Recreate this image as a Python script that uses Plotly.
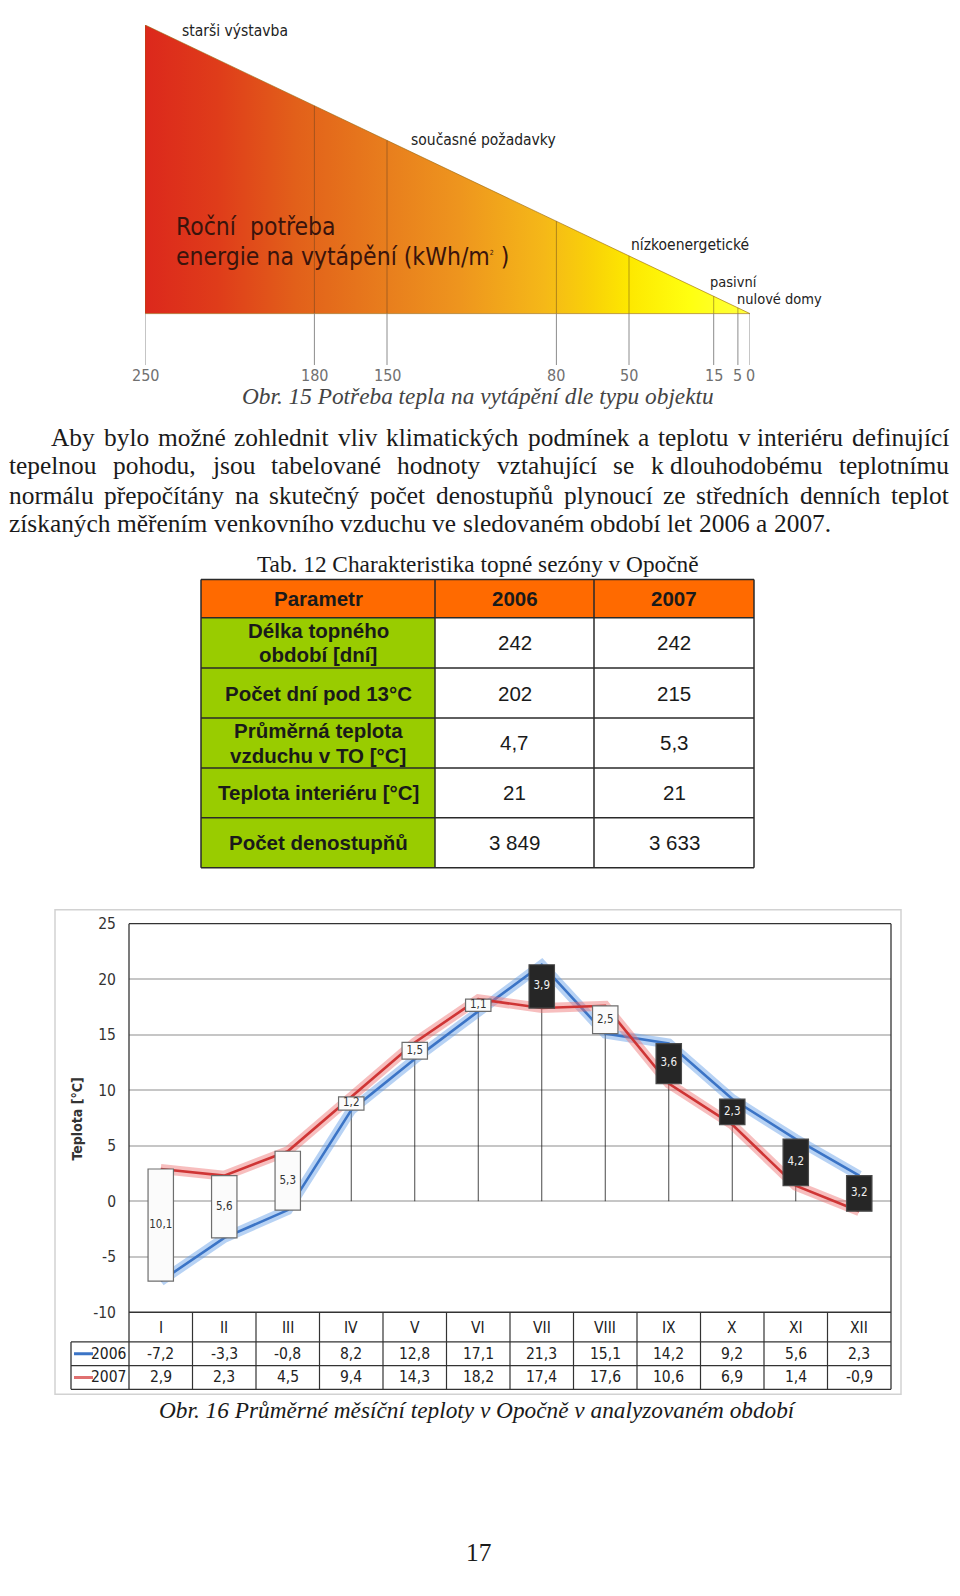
import unicodedata
import plotly.graph_objects as go

W, H = 960, 1596


def px(x):
    return x / W


def py(y):
    return 1 - y / H


# ---------------------------------------------------------------- data
# Obr. 15 – wedge chart
energy_ticks = [250, 180, 150, 80, 50, 15, 5, 0]
energy_top = 250
building_types = ["starši výstavba", "současné požadavky", "nízkoenergetické", "pasivní", "nulové domy"]
building_label_x = [235.5, 141.0, 50.0, 17.5, 6.3]      # label start on the kWh scale
building_label_h = [286, 176, 69, 32, 15]                # label height above the base (px units)
building_label_size = [15.5, 15.5, 15.5, 14.5, 14.5]

# Tab. 12
tab_header = ["Parametr", "2006", "2007"]
tab_params = [["Délka topného", "období [dní]"], ["Počet dní pod 13°C"],
              ["Průměrná teplota", "vzduchu v TO [°C]"], ["Teplota interiéru [°C]"],
              ["Počet denostupňů"]]
tab_2006 = ["242", "202", "4,7", "21", "3 849"]
tab_2007 = ["242", "215", "5,3", "21", "3 633"]

# Obr. 16 – monthly mean temperatures
months = ["I", "II", "III", "IV", "V", "VI", "VII", "VIII", "IX", "X", "XI", "XII"]
t2006 = [-7.2, -3.3, -0.8, 8.2, 12.8, 17.1, 21.3, 15.1, 14.2, 9.2, 5.6, 2.3]
t2007 = [2.9, 2.3, 4.5, 9.4, 14.3, 18.2, 17.4, 17.6, 10.6, 6.9, 1.4, -0.9]
series_names = ["2006", "2007"]
y_ticks = [-10, -5, 0, 5, 10, 15, 20, 25]
y_tick_text = ["-10", "-5", "0", "5", "10", "15", "20", "25"]

# text
paragraph = [
    "Aby bylo možné zohlednit vliv klimatických podmínek a teplotu v\u00a0interiéru definující",
    "tepelnou pohodu, jsou tabelované hodnoty vztahující se k\u00a0dlouhodobému teplotnímu",
    "normálu přepočítány na skutečný počet denostupňů plynoucí ze středních denních teplot",
    "získaných měřením venkovního vzduchu ve sledovaném období let 2006 a 2007.",
]

SERIF = "Liberation Serif, Times New Roman, serif"
SANS = "Liberation Sans, Arial, sans-serif"
NARROW = "Liberation Sans Narrow, Arial Narrow, DejaVu Sans Condensed, sans-serif"
COND = "DejaVu Sans Condensed, DejaVu Sans, sans-serif"

# Times-Roman advance widths (1/1000 em)
TIMES = {' ': 250, '\u00a0': 250, ',': 250, '.': 250, '(': 333, ')': 333,
         'a': 444, 'b': 500, 'c': 444, 'd': 500, 'e': 444, 'f': 333, 'g': 500, 'h': 500,
         'i': 278, 'j': 278, 'k': 500, 'l': 278, 'm': 778, 'n': 500, 'o': 500, 'p': 500,
         'q': 500, 'r': 333, 's': 389, 't': 278, 'u': 500, 'v': 500, 'w': 722, 'x': 500,
         'y': 500, 'z': 444, 'A': 722}
for d in "0123456789":
    TIMES[d] = 500


def tw(s, size):
    tot = 0
    for ch in s:
        base = unicodedata.normalize('NFD', ch)[0]
        tot += TIMES.get(base, 500)
    return tot * size / 1000


fig = go.Figure()
ann = []
shapes = []

# ---------------------------------------------------------------- wedge chart (x2/y2)
apex_h = 292
wedge_scale = [[0.0, '#dc281c'], [0.12, '#df3c1a'], [0.25, '#e2601a'], [0.4, '#e87e1d'],
               [0.52, '#ee951e'], [0.66, '#f5b818'], [0.74, '#f9d208'], [0.8, '#fde800'],
               [0.9, '#ffff10'], [1.0, '#ffff40']]
fig.add_trace(go.Scatter(
    x=[energy_top, energy_top, energy_ticks[-1], energy_top], y=[0, apex_h, 0, 0],
    xaxis='x2', yaxis='y2', mode='lines', fill='toself',
    line=dict(color='rgba(150,100,10,0.6)', width=1),
    fillgradient=dict(type='horizontal', start=energy_top, stop=energy_ticks[-1], colorscale=wedge_scale),
    hoverinfo='skip'))
# scale lines: inside the wedge (dark tint) and below it (grey)
ix, iy, bx, by = [], [], [], []
for v in energy_ticks:
    top = apex_h * v / energy_top
    if v not in (energy_top, energy_ticks[-1]):
        ix += [v, v, None]
        iy += [top, 0, None]
    bx += [v, v, None]
    by += [0, -52, None]
fig.add_trace(go.Scatter(x=ix, y=iy, xaxis='x2', yaxis='y2', mode='lines',
                         line=dict(color='rgba(90,60,30,0.45)', width=1), hoverinfo='skip'))
fig.add_trace(go.Scatter(x=bx, y=by, xaxis='x2', yaxis='y2', mode='lines',
                         line=dict(color='#8c8c8c', width=1), hoverinfo='skip'))
for v in energy_ticks:
    ann.append(dict(x=v, y=-63, xref='x2', yref='y2', text=str(v), showarrow=False,
                    font=dict(family=COND, size=16, color='#707070'), xanchor='center', yanchor='middle'))
for name, xv, hv, fs in zip(building_types, building_label_x, building_label_h, building_label_size):
    ann.append(dict(x=xv, y=hv, xref='x2', yref='y2', text=name, showarrow=False,
                    font=dict(family=COND, size=fs, color='#222222'), xanchor='left', yanchor='middle'))
ann.append(dict(x=px(166), y=py(212), xref='paper', yref='paper', text="Roční  potřeba", showarrow=False,
                font=dict(family=COND, size=24.5, color='#3a140c'), xanchor='left', yanchor='middle'))
ann.append(dict(x=px(166), y=py(242), xref='paper', yref='paper',
                text="energie na vytápění (kWh/m<sup><span style='font-size:7px'>2</span></sup> )",
                showarrow=False,
                font=dict(family=COND, size=24.5, color='#3a140c'), xanchor='left', yanchor='middle'))

# caption 15
ann.append(dict(x=px(470), y=py(383), xref='paper', yref='paper',
                text="<i>Obr. 15 Potřeba tepla na vytápění dle typu objektu</i>", showarrow=False,
                font=dict(family=SERIF, size=23.3, color='#444444'), xanchor='center', yanchor='middle'))

# ---------------------------------------------------------------- paragraph (justified)
PS = 25.4
line_y = [425, 453, 483, 512]
line_x0 = [42, 0, 0, 0]
line_x1 = [940, 940, 940, None]
for text, yc, x0, x1 in zip(paragraph, line_y, line_x0, line_x1):
    words = text.split(' ')
    widths = [tw(w, PS) for w in words]
    if x1 is None:
        gap = tw(' ', PS)
    else:
        gap = (x1 - x0 - sum(widths)) / (len(words) - 1)
    xpos = x0
    for w, wd in zip(words, widths):
        ann.append(dict(x=px(xpos), y=py(yc), xref='paper', yref='paper', text=w, showarrow=False,
                        font=dict(family=SERIF, size=PS, color='#1a1a1a'), xanchor='left',
                        yanchor='middle', borderpad=0))
        xpos += wd + gap

# ---------------------------------------------------------------- Tab. 12
ann.append(dict(x=px(470), y=py(553), xref='paper', yref='paper',
                text="Tab. 12 Charakteristika topné sezóny v Opočně", showarrow=False,
                font=dict(family=SERIF, size=23.3, color='#1a1a1a'), xanchor='center', yanchor='middle'))
col_b = [193, 427, 586, 746]
row_b = [569, 607.5, 658.5, 709, 759.5, 810, 860.5]
shapes.append(dict(type='rect', xref='paper', yref='paper', x0=px(col_b[0]), x1=px(col_b[-1]),
                   y0=py(row_b[0]), y1=py(row_b[1]), fillcolor='#ff6a00', line=dict(width=0)))
shapes.append(dict(type='rect', xref='paper', yref='paper', x0=px(col_b[0]), x1=px(col_b[1]),
                   y0=py(row_b[1]), y1=py(row_b[-1]), fillcolor='#99cc00', line=dict(width=0)))
for yb in row_b:
    shapes.append(dict(type='line', xref='paper', yref='paper', x0=px(col_b[0]), x1=px(col_b[-1]),
                       y0=py(yb), y1=py(yb), line=dict(color='#2a2a2a', width=1.5)))
for xb in col_b:
    shapes.append(dict(type='line', xref='paper', yref='paper', x0=px(xb), x1=px(xb),
                       y0=py(row_b[0]), y1=py(row_b[-1]), line=dict(color='#2a2a2a', width=1.5)))
col_c = [(col_b[i] + col_b[i + 1]) / 2 for i in range(3)]
for c, t in zip(col_c, tab_header):
    ann.append(dict(x=px(c), y=py((row_b[0] + row_b[1]) / 2), xref='paper', yref='paper',
                    text="<b>%s</b>" % t, showarrow=False,
                    font=dict(family=SANS, size=20.5, color='#1a1a1a'), xanchor='center', yanchor='middle'))
for r in range(5):
    yc = (row_b[r + 1] + row_b[r + 2]) / 2
    lines = tab_params[r]
    for k, ln in enumerate(lines):
        off = (k - (len(lines) - 1) / 2) * 24.5
        ann.append(dict(x=px(col_c[0]), y=py(yc + off), xref='paper', yref='paper',
                        text="<b>%s</b>" % ln, showarrow=False,
                        font=dict(family=SANS, size=20.5, color='#1a1a1a'), xanchor='center', yanchor='middle'))
    for c, val in zip(col_c[1:], [tab_2006[r], tab_2007[r]]):
        ann.append(dict(x=px(c), y=py(yc), xref='paper', yref='paper', text=val, showarrow=False,
                        font=dict(family=SANS, size=20.5, color='#1a1a1a'), xanchor='center', yanchor='middle'))

# ---------------------------------------------------------------- Obr. 16 chart
cats = list(range(len(months)))
lo = [min(a, b) for a, b in zip(t2006, t2007)]
hi = [max(a, b) for a, b in zip(t2006, t2007)]
diff = [round(abs(b - a), 1) for a, b in zip(t2006, t2007)]
up = [b >= a for a, b in zip(t2006, t2007)]


def fmt(v):
    return ("%.1f" % v).replace('.', ',')


# drop lines
dx, dy = [], []
for i, h in zip(cats, hi):
    dx += [i, i, None]
    dy += [h, 0, None]
fig.add_trace(go.Scatter(x=dx, y=dy, mode='lines', line=dict(color='#1a1a1a', width=0.8), hoverinfo='skip'))

# glowing lines
fig.add_trace(go.Scatter(x=cats, y=t2006, mode='lines', line=dict(color='rgba(95,155,230,0.45)', width=10),
                         hoverinfo='skip'))
fig.add_trace(go.Scatter(x=cats, y=t2006, mode='lines', name=series_names[0],
                         line=dict(color='#3b74c6', width=2.6)))
fig.add_trace(go.Scatter(x=cats, y=t2007, mode='lines', line=dict(color='rgba(238,110,110,0.45)', width=10),
                         hoverinfo='skip'))
fig.add_trace(go.Scatter(x=cats, y=t2007, mode='lines', name=series_names[1],
                         line=dict(color='#cf3535', width=2.6)))

# up/down bars (overlay axes so they sit above the lines)
fig.add_trace(go.Bar(x=cats, y=[h - l for h, l in zip(hi, lo)], base=lo, width=0.4,
                     xaxis='x3', yaxis='y3',
                     marker=dict(color=['#fbfbfb' if u else '#262626' for u in up],
                                 line=dict(color=['#6e6e6e' if u else '#4a4a4a' for u in up], width=1.2)),
                     hoverinfo='skip'))
fig.add_trace(go.Scatter(x=cats, y=[(h + l) / 2 for h, l in zip(hi, lo)], mode='text',
                         text=[fmt(d) for d in diff], xaxis='x3', yaxis='y3',
                         textfont=dict(family=NARROW, size=11.5,
                                       color=['#333333' if u else '#f0f0f0' for u in up]),
                         hoverinfo='skip'))

# chart frames
shapes.append(dict(type='rect', xref='paper', yref='paper', x0=px(47), x1=px(893), y0=py(1393), y1=py(903),
                   line=dict(color='#d2d2d2', width=1.5)))
for (x0, y0, x1, y1) in [(121, 917, 883, 917), (883, 917, 883, 1388), (121, 917, 121, 1388)]:
    shapes.append(dict(type='line', xref='paper', yref='paper', x0=px(x0), x1=px(x1), y0=py(y0), y1=py(y1),
                       line=dict(color='#333333', width=1.3)))
# data table
for (x0, yv) in [(121, 1310), (63, 1340), (63, 1364), (63, 1388)]:
    shapes.append(dict(type='line', xref='paper', yref='paper', x0=px(x0), x1=px(883), y0=py(yv), y1=py(yv),
                       line=dict(color='#333333', width=1.3)))
shapes.append(dict(type='line', xref='paper', yref='paper', x0=px(63), x1=px(63), y0=py(1340), y1=py(1388),
                   line=dict(color='#333333', width=1.3)))
for i in cats[1:]:
    shapes.append(dict(type='line', xref='x', yref='paper', x0=i - 0.5, x1=i - 0.5, y0=py(1310), y1=py(1388),
                       line=dict(color='#333333', width=1.2)))
# legend keys
for yk, col in [(1352, '#3b74c6'), (1376, '#e07070')]:
    shapes.append(dict(type='line', xref='paper', yref='paper', x0=px(66), x1=px(85), y0=py(yk), y1=py(yk),
                       line=dict(color=col, width=3)))
for yk, nm in [(1352, series_names[0]), (1376, series_names[1])]:
    ann.append(dict(x=px(120), y=py(yk), xref='paper', yref='paper', text=nm, showarrow=False,
                    font=dict(family=NARROW, size=15.5, color='#222222'), xanchor='right', yanchor='middle'))
for i, m in zip(cats, months):
    ann.append(dict(x=i, y=py(1326), xref='x', yref='paper', text=m, showarrow=False,
                    font=dict(family=NARROW, size=15.5, color='#222222'), xanchor='center', yanchor='middle'))
for yk, vals in [(1352, t2006), (1376, t2007)]:
    for i, v in zip(cats, vals):
        ann.append(dict(x=i, y=py(yk), xref='x', yref='paper', text=fmt(v), showarrow=False,
                        font=dict(family=NARROW, size=15.5, color='#222222'), xanchor='center', yanchor='middle'))
# y title
ann.append(dict(x=px(69), y=py(1115), xref='paper', yref='paper', text="<b>Teplota [°C]</b>", showarrow=False,
                textangle=-90, font=dict(family=NARROW, size=14, color='#333333'),
                xanchor='center', yanchor='middle'))

# caption 16 and page number
ann.append(dict(x=px(470), y=py(1409), xref='paper', yref='paper',
                text="<i>Obr. 16 Průměrné měsíční teploty v Opočně v analyzovaném období</i>", showarrow=False,
                font=dict(family=SERIF, size=23.3, color='#1a1a1a'), xanchor='center', yanchor='middle'))
ann.append(dict(x=px(470), y=py(1553), xref='paper', yref='paper', text="17", showarrow=False,
                font=dict(family=SERIF, size=25.4, color='#1a1a1a'), xanchor='center', yanchor='middle'))

fig.update_layout(
    width=W, height=H, margin=dict(l=0, r=0, t=0, b=0),
    paper_bgcolor='white', plot_bgcolor='white', showlegend=False,
    xaxis=dict(domain=[px(121), px(883)], range=[-0.5, 11.5], visible=False, fixedrange=True),
    yaxis=dict(domain=[py(1310), py(917)], range=[-10, 25], tickvals=y_ticks, ticktext=y_tick_text,
               showgrid=True, gridcolor='#c6c6c6', gridwidth=1.6, zeroline=False, showline=False, ticks='',
               ticklabelstandoff=12, tickfont=dict(family=NARROW, size=15.5, color='#333333')),
    xaxis3=dict(overlaying='x', range=[-0.5, 11.5], visible=False),
    yaxis3=dict(overlaying='y', range=[-10, 25], visible=False),
    xaxis2=dict(domain=[px(137), px(742)], range=[energy_top, energy_ticks[-1]], visible=False, anchor='y2'),
    yaxis2=dict(domain=[py(378), py(8)], range=[-78, apex_h], visible=False, anchor='x2'),
    annotations=ann, shapes=shapes,
)

fig.write_html("out.html")
